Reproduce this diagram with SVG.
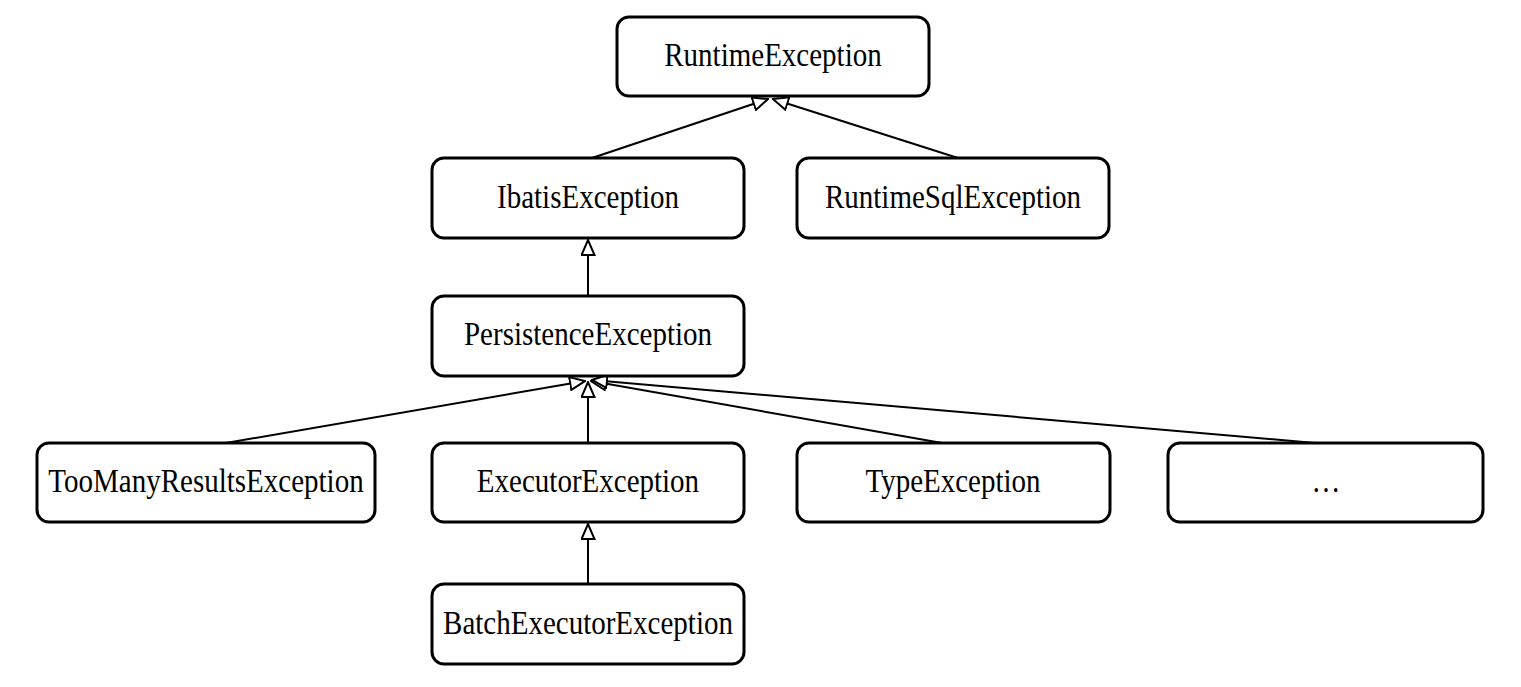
<svg xmlns="http://www.w3.org/2000/svg" width="1521" height="687" viewBox="0 0 1521 687">
<style>
.box{fill:#fff;stroke:#000;stroke-width:3}
.lbl{font-family:"Liberation Serif","Times New Roman",serif;font-size:29px;fill:#000;text-anchor:middle}
.edge{stroke:#000;stroke-width:2;fill:none;marker-end:url(#tri)}
</style>
<defs>
<marker id="tri" viewBox="0 0 17 15" refX="16" refY="7.5" markerWidth="17" markerHeight="15" markerUnits="userSpaceOnUse" orient="auto">
<path d="M1,1 L16,7.5 L1,14 Z" fill="#fff" stroke="#000" stroke-width="2"/>
</marker>
</defs>
<rect width="1521" height="687" fill="#fff"/>
<g id="connectors">
<line class="edge" x1="592" y1="158" x2="768" y2="99"/>
<line class="edge" x1="958" y1="158" x2="773" y2="99"/>
<line class="edge" x1="588" y1="296" x2="588" y2="240"/>
<line class="edge" x1="226" y1="443" x2="585" y2="381"/>
<line class="edge" x1="588" y1="443" x2="588" y2="382"/>
<line class="edge" x1="942" y1="443" x2="591" y2="381"/>
<line class="edge" x1="1315" y1="443" x2="592" y2="380"/>
<line class="edge" x1="588" y1="584" x2="588" y2="524"/>
</g>
<g id="RuntimeException"><rect class="box" x="617" y="17" width="312" height="79" rx="12"/><text class="lbl" transform="translate(773,66) scale(1,1.15)">RuntimeException</text></g>
<g id="IbatisException"><rect class="box" x="432" y="158" width="312" height="80" rx="12"/><text class="lbl" transform="translate(588,208) scale(1,1.15)">IbatisException</text></g>
<g id="RuntimeSqlException"><rect class="box" x="797" y="158" width="312" height="80" rx="12"/><text class="lbl" transform="translate(953,208) scale(1,1.15)">RuntimeSqlException</text></g>
<g id="PersistenceException"><rect class="box" x="432" y="296" width="312" height="80" rx="12"/><text class="lbl" transform="translate(588,345) scale(1,1.15)">PersistenceException</text></g>
<g id="TooManyResultsException"><rect class="box" x="37" y="443" width="338" height="79" rx="12"/><text class="lbl" transform="translate(206,492) scale(1,1.15)">TooManyResultsException</text></g>
<g id="ExecutorException"><rect class="box" x="432" y="443" width="312" height="79" rx="12"/><text class="lbl" transform="translate(588,492) scale(1,1.15)">ExecutorException</text></g>
<g id="TypeException"><rect class="box" x="797" y="443" width="313" height="79" rx="12"/><text class="lbl" transform="translate(953,492) scale(1,1.15)">TypeException</text></g>
<g id="Etc"><rect class="box" x="1168" y="443" width="315" height="79" rx="12"/><text class="lbl" transform="translate(1326,492) scale(1,1.15)">…</text></g>
<g id="BatchExecutorException"><rect class="box" x="432" y="584" width="312" height="80" rx="12"/><text class="lbl" transform="translate(588,634) scale(1,1.15)">BatchExecutorException</text></g>
</svg>
